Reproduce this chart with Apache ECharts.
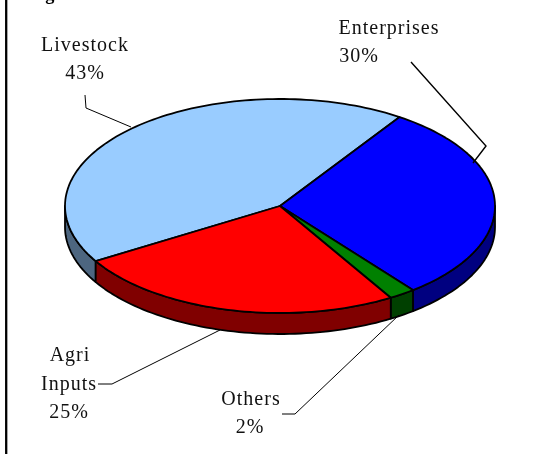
<!DOCTYPE html>
<html>
<head>
<meta charset="utf-8">
<style>html,body{margin:0;padding:0;background:#fff}#c{width:540px;height:454px}</style>
<script src="https://cdn.jsdelivr.net/npm/echarts@6/dist/echarts.min.js"></script>
</head>
<body>
<div id="c"></div>
<script>
// Share of advances by purpose
var categories = ['Livestock', 'Enterprises', 'Others', 'Agri Inputs'];
var shares = [43, 30, 2, 25];
var topColors = ['#99ccff', '#0000ff', '#008000', '#ff0000'];
var sideColors = ['#4d6680', '#000080', '#004000', '#800000'];
var labelLines = [['Livestock', '43%'], ['Enterprises', '30%'], ['Others', '2%'], ['Agri', 'Inputs', '25%']];
var heading = 'Figure 4: MFIs advances \u2013 Distribution of Trade Credit';

// Tilted disc geometry
var cx = 280, cy = 206, rx = 215, ry = 107, depth = 21;
// Clockwise from the top of the disc, in degrees
function rimPoint(deg, dy) {
  var t = deg * Math.PI / 180;
  return [cx + rx * Math.sin(t), cy - ry * Math.cos(t) + (dy || 0)];
}
function arc(a, b, dy) {
  var pts = [], n = Math.max(2, Math.ceil(Math.abs(b - a) / 1.5));
  for (var i = 0; i <= n; i++) pts.push(rimPoint(a + (b - a) * i / n, dy));
  return pts;
}
var total = shares.reduce(function (s, v) { return s + v; }, 0);
// Livestock starts at the left rim and runs clockwise over the top
var spans = [], cursor = 239;
shares.forEach(function (v) {
  var sweep = v / total * 360;
  spans.push([cursor, cursor + sweep]);
  cursor += sweep;
});

function renderSlice(params, api) {
  var i = api.value(0);
  var a = spans[i][0], b = spans[i][1];
  var stroke = { stroke: '#000', lineWidth: 1.8, lineJoin: 'round' };
  var children = [];
  // Side wall: only the part of the rim that faces the viewer (90..270 degrees)
  var norm = function (d) { return ((d % 360) + 360) % 360; };
  var sa = norm(a), sb = sa + (b - a), walls = [];
  [[90, 270], [450, 630]].forEach(function (r) {
    var lo = Math.max(sa, r[0]), hi = Math.min(sb, r[1]);
    if (hi > lo) walls.push([lo, hi]);
  });
  walls.forEach(function (w) {
    var pts = arc(w[0], w[1], 0).concat(arc(w[1], w[0], depth));
    children.push({
      type: 'polygon', shape: { points: pts },
      style: Object.assign({ fill: sideColors[i] }, stroke)
    });
  });
  children.push({
    type: 'polygon', shape: { points: [[cx, cy]].concat(arc(a, b, 0)) },
    style: Object.assign({ fill: topColors[i] }, stroke)
  });
  return { type: 'group', children: children };
}

// Label lines: text index, line index, centre x, centre y
var textSpots = [
  [0, 0, 85, 46], [0, 1, 85, 74],
  [1, 0, 389, 29], [1, 1, 359, 57],
  [2, 0, 251, 400], [2, 1, 250, 428],
  [3, 0, 70, 356], [3, 1, 69, 385], [3, 2, 69, 413]
];
var leaders = [
  { w: 1, pts: [[85, 95], [86, 108], [131, 127]] },
  { w: 1.4, pts: [[411, 62], [486, 146], [473, 163]] },
  { w: 1, pts: [[282, 414], [295, 414], [399, 315]] },
  { w: 1, pts: [[98, 384], [112, 384], [220, 330]] }
];
var annotations = [];
leaders.forEach(function (l) {
  annotations.push({
    type: 'polyline', shape: { points: l.pts },
    style: { stroke: '#000', lineWidth: l.w, fill: null }, z: 5
  });
});
textSpots.forEach(function (s) {
  annotations.push({
    type: 'text', x: s[2], y: s[3],
    style: {
      text: labelLines[s[0]][s[1]], fill: '#111', align: 'center', verticalAlign: 'middle',
      font: '20px "Liberation Serif", serif'
    }, z: 6
  });
});
// Heading, cut by the top of the page
annotations.push({
  type: 'text', x: 27, y: 4,
  style: {
    text: heading, fill: '#000', align: 'left', verticalAlign: 'bottom',
    font: 'bold 18.3px "Liberation Serif", serif'
  }, z: 6
});
// Page rule down the left side
annotations.push({
  type: 'line', shape: { x1: 6.2, y1: 0, x2: 6.2, y2: 454 },
  style: { stroke: '#000', lineWidth: 2.3 }, z: 6
});

var chart = echarts.init(document.getElementById('c'), null, { renderer: 'canvas' });
chart.setOption({
  animation: false,
  backgroundColor: '#fff',
  graphic: annotations,
  series: [{
    type: 'custom',
    coordinateSystem: 'none',
    renderItem: renderSlice,
    data: shares.map(function (v, i) { return [i, v, categories[i]]; })
  }]
});
// Loose tracking for all lettering on the canvas, applied once the layer exists
chart.getZr().refreshImmediately();
document.querySelectorAll('#c canvas').forEach(function (cv) {
  cv.getContext('2d').letterSpacing = '1px';
});
chart.getZr().painter.refresh(true);
</script>
</body>
</html>
